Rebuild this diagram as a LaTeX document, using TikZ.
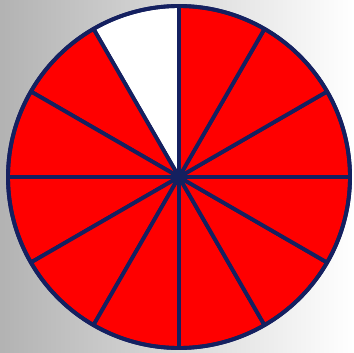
\documentclass[tikz,border=0pt]{standalone}
\usepackage{xcolor}
\usepackage{tikz}
\definecolor{rimblue}{HTML}{142060}
\definecolor{slicered}{HTML}{FF0000}

\begin{document}
\begin{tikzpicture}[
  slice/.style={fill=slicered, draw=rimblue, line width=2.2pt, line join=round},
  blank/.style={fill=white, draw=rimblue, line width=2.2pt, line join=round}
]
\shade[left color=black!30, right color=white] (0,0) rectangle (7.08,7.04);
\useasboundingbox (0,0) rectangle (7.08,7.04);
\coordinate (c) at (3.58,3.50);
% twelve slices, the one from 90 to 120 left white
\foreach \a in {0,30,...,330}{
  \ifnum\a=90
    \draw[blank] (c) -- ++(\a:3.42) arc[start angle=\a, end angle=\a+30, radius=3.42] -- cycle;
  \else
    \draw[slice] (c) -- ++(\a:3.42) arc[start angle=\a, end angle=\a+30, radius=3.42] -- cycle;
  \fi
}
\draw[draw=rimblue, line width=2.2pt] (c) circle[radius=3.42];
\end{tikzpicture}
\end{document}
